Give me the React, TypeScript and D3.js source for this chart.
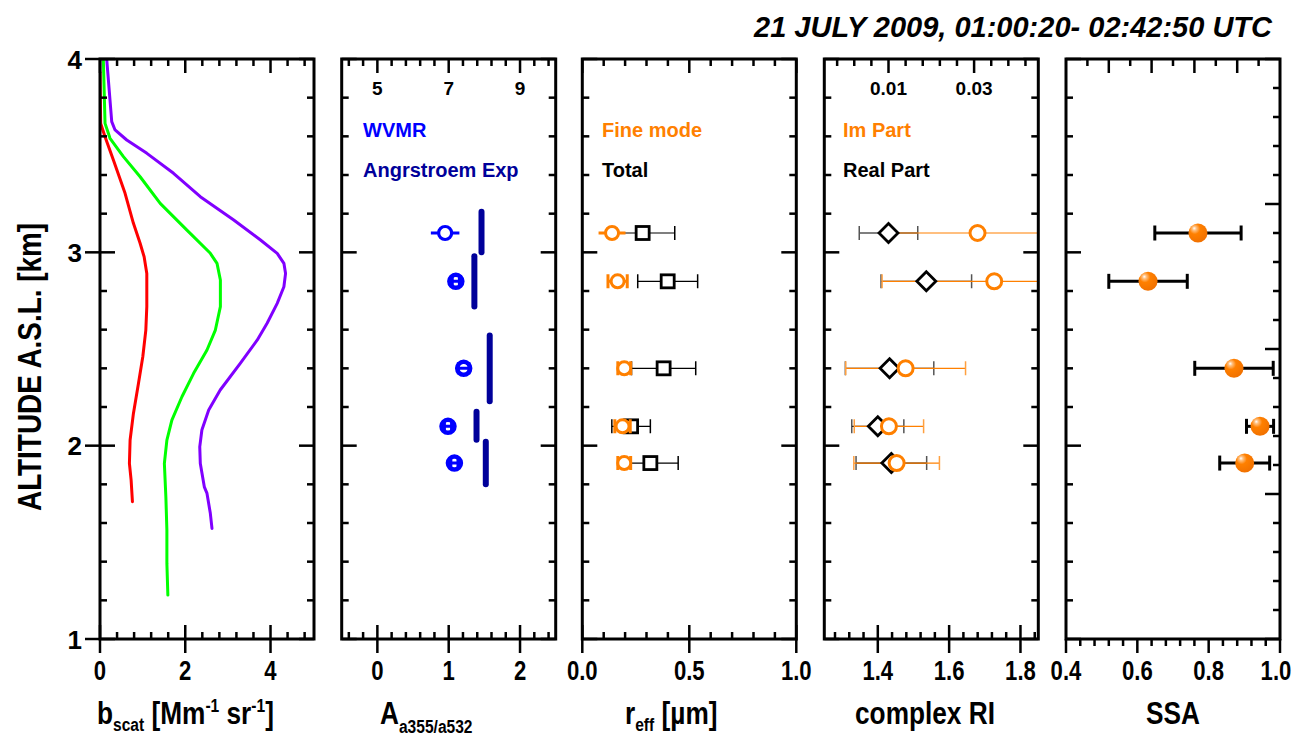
import React from 'react';
import * as d3 from 'd3';

// ---------------- data ----------------
const LAYER_ALT = [3.1, 2.85, 2.4, 2.1, 1.91];

const WVMR = [6.9, 7.2, 7.42, 6.98, 7.16];
const WVMR_ERR = [0.4, 0.1, 0.15, 0.1, 0.1];
const ANGSTROEM = [1.46, 1.36, 1.575, 1.39, 1.52];
const ANGSTROEM_ALT_LOW = [3.0, 2.72, 2.23, 2.03, 1.8];
const ANGSTROEM_ALT_HIGH = [3.21, 2.98, 2.57, 2.175, 2.02];

const REFF_FINE = [0.139, 0.165, 0.196, 0.188, 0.196];
const REFF_FINE_ERR = [0.063, 0.045, 0.03, 0.036, 0.03];
const REFF_TOTAL = [0.282, 0.399, 0.38, 0.228, 0.318];
const REFF_TOTAL_ERR = [0.15, 0.14, 0.15, 0.09, 0.13];

const RI_REAL = [1.43, 1.536, 1.433, 1.4, 1.438];
const RI_REAL_ERR = [0.082, 0.127, 0.124, 0.073, 0.099];
const RI_IM = [0.0308, 0.0347, 0.014, 0.0101, 0.0119];
const RI_IM_ERR = [0.0201, 0.0262, 0.014, 0.0081, 0.01];

const SSA = [0.77, 0.63, 0.871, 0.944, 0.901];
const SSA_ERR = [0.121, 0.11, 0.11, 0.038, 0.07];

const RED_ALT = [3.93, 3.667, 3.598, 3.478, 3.305, 3.15, 3.047, 2.977, 2.891, 2.719, 2.598, 2.46, 2.322, 2.167, 2.029, 1.908, 1.822, 1.71];
const RED_B = [0, 0.016, 0.118, 0.314, 0.588, 0.784, 0.941, 1.035, 1.098, 1.098, 1.075, 1.004, 0.902, 0.784, 0.706, 0.69, 0.73, 0.761];
const GREEN_ALT = [4.0, 3.667, 3.59, 3.495, 3.391, 3.253, 3.115, 2.995, 2.943, 2.857, 2.719, 2.598, 2.495, 2.374, 2.253, 2.132, 2.029, 1.908, 1.736, 1.563, 1.391, 1.227];
const GREEN_B = [0.078, 0.118, 0.235, 0.549, 0.941, 1.412, 2.039, 2.588, 2.745, 2.824, 2.824, 2.706, 2.51, 2.196, 1.922, 1.686, 1.569, 1.51, 1.545, 1.569, 1.569, 1.592];
const PURPLE_ALT = [4.0, 3.676, 3.633, 3.581, 3.512, 3.409, 3.288, 3.167, 3.064, 2.995, 2.943, 2.891, 2.822, 2.736, 2.633, 2.547, 2.426, 2.288, 2.184, 2.081, 1.994, 1.908, 1.787, 1.753, 1.65, 1.572];
const PURPLE_B = [0.157, 0.275, 0.353, 0.627, 1.1, 1.725, 2.353, 3.137, 3.765, 4.157, 4.314, 4.353, 4.314, 4.157, 3.92, 3.69, 3.29, 2.82, 2.55, 2.39, 2.34, 2.353, 2.447, 2.51, 2.588, 2.627];

const ALT_TICKS = ['1', '2', '3', '4'];
const BSCAT_TICKS = ['0', '2', '4'];
const ANG_TICKS = ['0', '1', '2'];
const WVMR_TICKS = ['5', '7', '9'];
const REFF_TICKS = ['0.0', '0.5', '1.0'];
const RI_TICKS = ['1.4', '1.6', '1.8'];
const IM_TICKS = ['0.01', '0.03'];
const SSA_TICKS = ['0.4', '0.6', '0.8', '1.0'];

const TITLE = '21 JULY 2009, 01:00:20- 02:42:50 UTC';

// ---------------- layout ----------------
const FONT = "'Liberation Sans', Arial, Helvetica, sans-serif";
const SQUEEZE = 0.82;
const ORANGE = '#ff8000';
const BLUE = '#0000ff';
const NAVY = '#00009a';
const Y_TOP = 59;
const Y_BOT = 639;
const PW = 214;
const LEFTS = [100, 341.7, 582.3, 824.3, 1066];
const MAJ = 14;
const MIN = 7;

const seq = (a: number, b: number, step: number) => {
  const n = Math.round((b - a) / step);
  return d3.range(n + 1).map((i) => +(a + i * step).toFixed(6));
};

export default function App() {
  const y = d3.scaleLinear().domain([1, 4]).range([Y_BOT, Y_TOP]);
  const xB = d3.scaleLinear().domain([0, 5.02]).range([LEFTS[0], LEFTS[0] + PW]);
  const xA = d3.scaleLinear().domain([-0.5, 2.5]).range([LEFTS[1], LEFTS[1] + PW]);
  const xW = d3.scaleLinear().domain([4, 10]).range([LEFTS[1], LEFTS[1] + PW]);
  const xR = d3.scaleLinear().domain([0, 1]).range([LEFTS[2], LEFTS[2] + PW]);
  const xRI = d3.scaleLinear().domain([1.25, 1.85]).range([LEFTS[3], LEFTS[3] + PW]);
  const xIm = d3.scaleLinear().domain([-0.005, 0.045]).range([LEFTS[3], LEFTS[3] + PW]);
  const xS = d3.scaleLinear().domain([0.4, 1.0]).range([LEFTS[4], LEFTS[4] + PW]);
  const xSTop = d3.scaleLinear().domain([0, 5]).range([LEFTS[4], LEFTS[4] + PW]);
  const ySRight = d3.scaleLinear().domain([0, 4]).range([Y_BOT, Y_TOP]);

  const ticks: React.ReactNode[] = [];
  let k = 0;
  const L = (x1: number, y1: number, x2: number, y2: number) => {
    ticks.push(<line key={'t' + k++} x1={x1} y1={y1} x2={x2} y2={y2} />);
  };

  const altMajors = ALT_TICKS.map(Number);
  const altMinors = seq(1, 4, 0.2).filter((v) => Math.abs(v - Math.round(v)) > 1e-6);

  LEFTS.forEach((left, i) => {
    const right = left + PW;
    altMajors.forEach((v) => {
      if (i === 0) L(left - 15, y(v), left + 15, y(v));
      else L(left, y(v), left + 15, y(v));
    });
    altMinors.forEach((v) => L(left, y(v), left + MIN, y(v)));
    if (i < 4) {
      altMajors.forEach((v) => L(right, y(v), right - 15, y(v)));
      altMinors.forEach((v) => L(right, y(v), right - MIN, y(v)));
    } else {
      seq(0, 4, 1).forEach((v) => L(right, ySRight(v), right - 15, ySRight(v)));
      seq(0, 4, 0.2)
        .filter((v) => Math.abs(v - Math.round(v)) > 1e-6)
        .forEach((v) => L(right, ySRight(v), right - MIN, ySRight(v)));
    }
  });

  const bottomTicks = (sc: (v: number) => number, majors: number[], minors: number[], outward = false) => {
    majors.forEach((v) => (outward ? L(sc(v), Y_BOT, sc(v), Y_BOT + MAJ) : L(sc(v), Y_BOT - MAJ, sc(v), Y_BOT + MAJ)));
    minors.forEach((v) => (outward ? L(sc(v), Y_BOT, sc(v), Y_BOT + MIN) : L(sc(v), Y_BOT, sc(v), Y_BOT - MIN)));
  };
  const topTicks = (sc: (v: number) => number, majors: number[], minors: number[]) => {
    majors.forEach((v) => L(sc(v), Y_TOP, sc(v), Y_TOP + MAJ));
    minors.forEach((v) => L(sc(v), Y_TOP, sc(v), Y_TOP + MIN));
  };
  const notIn = (arr: number[]) => (v: number) => !arr.some((a) => Math.abs(a - v) < 1e-6);

  const bMaj = BSCAT_TICKS.map(Number);
  const bMin = seq(0.4, 4.8, 0.4).filter(notIn(bMaj));
  bottomTicks(xB, bMaj, bMin);
  topTicks(xB, bMaj, bMin);
  const aMaj = ANG_TICKS.map(Number);
  bottomTicks(xA, aMaj, seq(-0.4, 2.4, 0.2).filter(notIn(aMaj)));
  const wMaj = WVMR_TICKS.map(Number);
  topTicks(xW, wMaj, seq(4.2, 9.8, 0.4).filter(notIn(wMaj)));
  const rMaj = REFF_TICKS.map(Number);
  const rMin = seq(0.1, 0.9, 0.1).filter(notIn(rMaj));
  bottomTicks(xR, rMaj, rMin);
  topTicks(xR, rMaj, rMin);
  const riMaj = RI_TICKS.map(Number);
  bottomTicks(xRI, riMaj, seq(1.28, 1.84, 0.04).filter(notIn(riMaj)));
  const imMaj = IM_TICKS.map(Number);
  topTicks(xIm, imMaj, seq(-0.002, 0.042, 0.004).filter(notIn(imMaj)));
  const sMaj = SSA_TICKS.map(Number);
  bottomTicks(xS, sMaj, seq(0.44, 0.96, 0.04).filter(notIn(sMaj)), true);
  topTicks(xSTop, [1, 2, 3, 4], [0.5, 1.5, 2.5, 3.5, 4.5]);

  const line = d3
    .line<[number, number]>()
    .x((d) => xB(d[0]))
    .y((d) => y(d[1]));
  const prof = (bs: number[], alts: number[]) => line(bs.map((b, i) => [b, alts[i]] as [number, number])) || '';

  const tickLabel = (x: number, text: string, key: string) => (
    <text key={key} transform={`translate(${x},680) scale(${SQUEEZE},1)`} textAnchor="middle" fontFamily={FONT} fontWeight="bold" fontSize={27}>
      {text}
    </text>
  );

  const errH = (key: string, x1: number, x2: number, yy: number, color: string, w: number, capH: number, capColor?: string) => (
    <g key={key}>
      <line x1={x1} x2={x2} y1={yy} y2={yy} stroke={color} strokeWidth={w} />
      {capH > 0 && <line x1={x1} x2={x1} y1={yy - capH / 2} y2={yy + capH / 2} stroke={capColor || color} strokeWidth={Math.max(w, 1.5)} />}
      {capH > 0 && <line x1={x2} x2={x2} y1={yy - capH / 2} y2={yy + capH / 2} stroke={capColor || color} strokeWidth={Math.max(w, 1.5)} />}
    </g>
  );

  return (
    <svg width={1296} height={738} style={{ position: 'absolute', left: 0, top: 0, background: '#fff' }}>
      <defs>
        {LEFTS.map((left, i) => (
          <clipPath id={'clip' + i} key={'c' + i}>
            <rect x={left} y={Y_TOP} width={PW} height={Y_BOT - Y_TOP} />
          </clipPath>
        ))}
        <radialGradient id="sphere" cx="0.38" cy="0.33" r="0.7" fx="0.3" fy="0.25">
          <stop offset="0" stopColor="#ffffff" />
          <stop offset="0.15" stopColor="#ffc080" />
          <stop offset="0.4" stopColor="#ff8000" />
          <stop offset="1" stopColor="#f07000" />
        </radialGradient>
      </defs>

      <text x={1272} y={37} textAnchor="end" fontFamily={FONT} fontWeight="bold" fontStyle="italic" fontSize={29}>
        {TITLE}
      </text>

      <text transform={`translate(41,367) rotate(-90) scale(${SQUEEZE},1)`} textAnchor="middle" fontFamily={FONT} fontWeight="bold" fontSize={34}>
        ALTITUDE A.S.L. [km]
      </text>
      {ALT_TICKS.map((t) => (
        <text key={'yl' + t} x={82} y={y(+t) + 9.5} textAnchor="end" fontFamily={FONT} fontWeight="bold" fontSize={26}>
          {t}
        </text>
      ))}

      <g clipPath="url(#clip0)" fill="none" strokeWidth={3} strokeLinejoin="round" strokeLinecap="round">
        <path d={prof(RED_B, RED_ALT)} stroke="#ff0000" />
        <path d={prof(GREEN_B, GREEN_ALT)} stroke="#00ff00" />
        <path d={prof(PURPLE_B, PURPLE_ALT)} stroke="#8000ff" />
      </g>

      <g clipPath="url(#clip1)">
        {ANGSTROEM.map((a, i) => (
          <line key={'ang' + i} x1={xA(a)} x2={xA(a)} y1={y(ANGSTROEM_ALT_LOW[i])} y2={y(ANGSTROEM_ALT_HIGH[i])} stroke={NAVY} strokeWidth={6} strokeLinecap="round" />
        ))}
        {WVMR.map((w, i) => (
          <g key={'wv' + i}>
            {errH('we' + i, xW(w - WVMR_ERR[i]), xW(w + WVMR_ERR[i]), y(LAYER_ALT[i]), BLUE, 3, i === 0 ? 0 : 12)}
            <circle cx={xW(w)} cy={y(LAYER_ALT[i])} r={6.5} fill={i === 0 ? '#fff' : 'none'} stroke={BLUE} strokeWidth={i === 0 ? 3.2 : 4.5} />
          </g>
        ))}
      </g>
      <text x={363} y={137} fontFamily={FONT} fontWeight="bold" fontSize={20} fill={BLUE}>WVMR</text>
      <text x={363} y={177} fontFamily={FONT} fontWeight="bold" fontSize={20} fill={NAVY}>Angrstroem Exp</text>
      {WVMR_TICKS.map((t) => (
        <text key={'wt' + t} x={xW(+t)} y={95} textAnchor="middle" fontFamily={FONT} fontWeight="bold" fontSize={19}>{t}</text>
      ))}

      <g clipPath="url(#clip2)">
        {REFF_TOTAL.map((r, i) => (
          <g key={'rt' + i}>
            {errH('rte' + i, xR(r - REFF_TOTAL_ERR[i]), xR(r + REFF_TOTAL_ERR[i]), y(LAYER_ALT[i]), '#000', 1.2, 14)}
            <rect x={xR(r) - 6.5} y={y(LAYER_ALT[i]) - 6.5} width={13} height={13} fill="#fff" stroke="#000" strokeWidth={2.8} />
          </g>
        ))}
        {REFF_FINE.map((r, i) => (
          <g key={'rf' + i}>
            {errH('rfe' + i, xR(r - REFF_FINE_ERR[i]), xR(r + REFF_FINE_ERR[i]), y(LAYER_ALT[i]), ORANGE, 3, i === 0 ? 0 : 14)}
            <circle cx={xR(r)} cy={y(LAYER_ALT[i])} r={6.5} fill="#fff" stroke={ORANGE} strokeWidth={3} />
          </g>
        ))}
      </g>
      <text x={602} y={137} fontFamily={FONT} fontWeight="bold" fontSize={20} fill={ORANGE}>Fine mode</text>
      <text x={602} y={177} fontFamily={FONT} fontWeight="bold" fontSize={20} fill="#000">Total</text>

      <g clipPath="url(#clip3)">
        {RI_REAL.map((r, i) => errH('rre' + i, xRI(r - RI_REAL_ERR[i]), xRI(r + RI_REAL_ERR[i]), y(LAYER_ALT[i]), '#000', 1.2, 14, '#555'))}
        {RI_IM.map((m, i) => errH('rie' + i, xIm(m - RI_IM_ERR[i]), xIm(m + RI_IM_ERR[i]), y(LAYER_ALT[i]), ORANGE, 1.2, 14, '#ffa040'))}
        {RI_REAL.map((r, i) => {
          const cx = xRI(r);
          const cy = y(LAYER_ALT[i]);
          const s = 9.5;
          return (
            <path key={'rd' + i} d={`M${cx},${cy - s}L${cx + s},${cy}L${cx},${cy + s}L${cx - s},${cy}Z`} fill="#fff" stroke="#000" strokeWidth={2.8} />
          );
        })}
        {RI_IM.map((m, i) => (
          <circle key={'ic' + i} cx={xIm(m)} cy={y(LAYER_ALT[i])} r={7.5} fill="#fff" stroke={ORANGE} strokeWidth={3} />
        ))}
      </g>
      <text x={843} y={137} fontFamily={FONT} fontWeight="bold" fontSize={20} fill={ORANGE}>Im Part</text>
      <text x={843} y={177} fontFamily={FONT} fontWeight="bold" fontSize={20} fill="#000">Real Part</text>
      {IM_TICKS.map((t) => (
        <text key={'it' + t} x={xIm(+t)} y={95} textAnchor="middle" fontFamily={FONT} fontWeight="bold" fontSize={19}>{t}</text>
      ))}

      <g clipPath="url(#clip4)">
        {SSA.map((s, i) => (
          <g key={'ss' + i}>
            {errH('sse' + i, xS(s - SSA_ERR[i]), xS(s + SSA_ERR[i]), y(LAYER_ALT[i]), '#000', 3, 15)}
            <circle cx={xS(s)} cy={y(LAYER_ALT[i])} r={9.5} fill="url(#sphere)" />
          </g>
        ))}
      </g>

      <g stroke="#000" strokeWidth={2.5} fill="none">
        {ticks}
        {LEFTS.map((left, i) => (
          <rect key={'f' + i} x={left} y={Y_TOP} width={PW} height={Y_BOT - Y_TOP} strokeWidth={3} />
        ))}
      </g>

      {BSCAT_TICKS.map((t) => tickLabel(xB(+t), t, 'b' + t))}
      {ANG_TICKS.map((t) => tickLabel(xA(+t), t, 'a' + t))}
      {REFF_TICKS.map((t) => tickLabel(xR(+t), t, 'r' + t))}
      {RI_TICKS.map((t) => tickLabel(xRI(+t), t, 'ri' + t))}
      {SSA_TICKS.map((t) => tickLabel(xS(+t) - (t === '1.0' ? 4 : 0), t, 's' + t))}

      <g fontFamily={FONT} fontWeight="bold" fontSize={32}>
        <text transform={`translate(97,724) scale(${SQUEEZE},1)`}>
          b<tspan fontSize={19} dy={7}>scat</tspan>
          <tspan dy={-7}> [Mm</tspan>
          <tspan fontSize={19} dy={-12}>-1</tspan>
          <tspan dy={12}> sr</tspan>
          <tspan fontSize={19} dy={-12}>-1</tspan>
          <tspan dy={12}>]</tspan>
        </text>
        <text transform={`translate(380,724) scale(${SQUEEZE},1)`}>
          A<tspan fontSize={19} dy={9}>a355/a532</tspan>
        </text>
        <text transform={`translate(625,724) scale(${SQUEEZE},1)`}>
          r<tspan fontSize={19} dy={7}>eff</tspan>
          <tspan dy={-7}> [µm]</tspan>
        </text>
        <text transform={`translate(925,724) scale(${SQUEEZE},1)`} textAnchor="middle">complex RI</text>
        <text transform={`translate(1173,724) scale(${SQUEEZE},1)`} textAnchor="middle">SSA</text>
      </g>
    </svg>
  );
}
